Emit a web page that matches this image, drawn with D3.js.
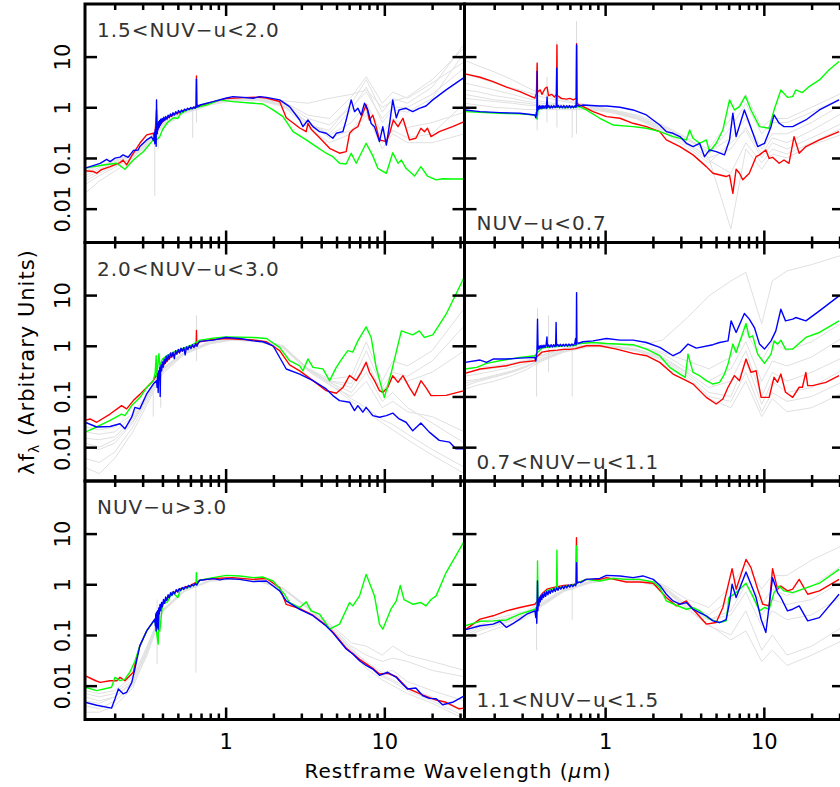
<!DOCTYPE html>
<html>
<head>
<meta charset="utf-8">
<script src="https://cdn.jsdelivr.net/npm/d3@7"></script>
<style>
  body { margin: 0; background: #fff; }
  text { font-family: "DejaVu Sans", sans-serif; }
</style>
</head>
<body>
<svg id="chart" width="840" height="787"></svg>
<script>
// sed panels: [wavelength (micron), lambda f_lambda]

const panelLabels = [
    "1.5<NUV\u2212u<2.0", "NUV\u2212u<0.7",
    "2.0<NUV\u2212u<3.0", "0.7<NUV\u2212u<1.1",
    "NUV\u2212u>3.0", "1.1<NUV\u2212u<1.5"
];

const xMajor = [1, 10];
const xMinor = [0.2, 0.3, 0.4, 0.5, 0.6, 0.7, 0.8, 0.9, 2, 3, 4, 5, 6, 7, 8, 9, 20, 30];
const yMajor = [0.01, 0.1, 1, 10];

// ---- top left: 1.5<NUV-u<2.0
const red1 = [[0.13,0.056],[0.147,0.054],[0.154,0.050],[0.165,0.059],[0.187,0.0675],[0.216,0.081],[0.226,0.091],[0.238,0.073],[0.256,0.11],[0.288,0.195],[0.318,0.285],[0.35,0.307],[0.358,0.25],[0.367,0.9],[0.37,0.35],[0.38,0.42],[0.40,0.52],[0.43,0.62],[0.47,0.72],[0.52,0.80],[0.57,0.90],[0.62,0.97],[0.652,1.0],[0.655,4.15],[0.658,1.0],[0.69,1.08],[0.834,1.27],[1.0,1.48],[1.29,1.55],[1.64,1.58],[1.81,1.52],[2.19,1.30],[2.41,0.62],[2.93,0.39],[3.22,0.33],[3.30,0.48],[3.46,0.37],[3.91,0.25],[4.52,0.155],[5.22,0.124],[5.75,0.133],[6.04,0.307],[6.33,0.36],[6.81,0.415],[7.32,0.76],[7.68,1.11],[8.06,0.56],[8.46,0.70],[8.88,0.415],[9.32,0.227],[10.3,0.21],[10.8,0.307],[11.4,0.56],[12.2,0.415],[13.1,0.607],[14.4,0.227],[15.8,0.245],[17.0,0.385],[17.9,0.33],[18.7,0.385],[19.7,0.264],[22.2,0.331],[26.9,0.415],[31.9,0.52]];
const green1 = [[0.13,0.063],[0.147,0.0675],[0.17,0.0728],[0.206,0.0785],[0.232,0.0598],[0.262,0.0913],[0.303,0.133],[0.35,0.227],[0.358,0.21],[0.367,0.227],[0.385,0.264],[0.40,0.36],[0.43,0.50],[0.47,0.62],[0.50,0.60],[0.52,0.75],[0.57,0.88],[0.62,0.95],[0.688,1.03],[0.757,1.11],[0.919,1.40],[1.11,1.29],[1.49,1.20],[1.72,1.16],[1.99,0.886],[2.30,0.654],[2.66,0.331],[3.22,0.227],[3.72,0.168],[4.30,0.124],[4.74,0.106],[5.22,0.0785],[5.75,0.0762],[6.18,0.124],[6.65,0.0785],[7.68,0.195],[8.46,0.11],[9.10,0.0626],[10.3,0.0499],[11.3,0.127],[12.2,0.0785],[12.8,0.0913],[13.7,0.0626],[15.5,0.044],[17.0,0.0675],[18.7,0.044],[21.2,0.0369],[23.3,0.039],[26.9,0.0386],[31.9,0.0386]];
const blue1 = [[0.13,0.063],[0.162,0.078],[0.178,0.094],[0.187,0.085],[0.201,0.099],[0.216,0.104],[0.226,0.115],[0.243,0.103],[0.262,0.14],[0.281,0.144],[0.288,0.168],[0.318,0.227],[0.341,0.26],[0.352,0.22],[0.356,0.32],[0.358,0.19],[0.360,0.36],[0.362,0.24],[0.364,0.40],[0.365,0.17],[0.367,1.40],[0.369,0.36],[0.371,0.30],[0.373,0.48],[0.375,0.36],[0.378,0.52],[0.381,0.40],[0.384,0.55],[0.387,0.44],[0.39,0.58],[0.394,0.48],[0.398,0.60],[0.403,0.52],[0.408,0.64],[0.414,0.55],[0.42,0.66],[0.427,0.58],[0.434,0.70],[0.441,0.62],[0.449,0.74],[0.457,0.66],[0.466,0.78],[0.475,0.70],[0.485,0.82],[0.495,0.74],[0.505,0.86],[0.516,0.78],[0.527,0.88],[0.539,0.82],[0.551,0.92],[0.563,0.86],[0.576,0.96],[0.589,0.90],[0.603,0.99],[0.617,0.93],[0.63,1.02],[0.642,0.96],[0.652,1.05],[0.655,3.6],[0.658,1.0],[0.668,1.1],[0.678,1.04],[0.688,1.11],[0.834,1.29],[1.0,1.51],[1.11,1.62],[1.29,1.57],[1.49,1.51],[1.64,1.62],[1.81,1.57],[2.19,1.40],[2.53,1.03],[2.93,0.56],[3.07,0.415],[3.30,0.56],[3.55,0.415],[3.91,0.33],[4.30,0.307],[4.74,0.245],[4.98,0.307],[5.48,0.33],[5.75,0.56],[6.18,1.40],[6.49,0.82],[6.81,0.96],[7.15,0.70],[7.50,1.20],[7.87,0.89],[8.26,0.48],[8.67,0.415],[9.32,0.21],[9.78,0.415],[10.3,0.18],[10.8,0.48],[11.3,1.40],[11.9,0.62],[12.4,0.89],[13.7,0.955],[15.1,0.82],[16.6,0.955],[18.3,1.06],[20.2,1.40],[24.5,2.20],[31.9,3.9]];

// ---- top right: NUV-u<0.7
const red2 = [[0.131,4.55],[0.163,3.91],[0.197,3.21],[0.239,2.50],[0.29,2.04],[0.361,1.51],[0.369,1.9],[0.373,7.4],[0.375,2.0],[0.39,2.2],[0.40,1.8],[0.42,2.4],[0.431,2.5],[0.44,1.7],[0.46,1.8],[0.48,1.6],[0.494,1.8],[0.497,17],[0.50,1.7],[0.53,1.5],[0.57,1.45],[0.60,1.5],[0.63,1.4],[0.658,1.5],[0.661,18],[0.664,1.2],[0.691,1.11],[0.84,0.82],[1.02,0.654],[1.24,0.607],[1.50,0.483],[1.82,0.415],[2.21,0.331],[2.43,0.227],[2.96,0.168],[3.58,0.115],[4.34,0.0675],[4.78,0.0499],[5.79,0.043],[6.08,0.046],[6.38,0.02],[6.69,0.0598],[7.03,0.0499],[7.37,0.037],[8.10,0.0499],[8.94,0.106],[9.39,0.115],[10.3,0.144],[10.8,0.098],[11.35,0.103],[12.5,0.0785],[13.4,0.0913],[14.4,0.0785],[15.5,0.264],[16.7,0.124],[18.4,0.168],[22.4,0.227],[29.8,0.331]];
const green2 = [[0.131,0.82],[0.163,0.80],[0.217,0.761],[0.29,0.74],[0.361,0.706],[0.373,0.58],[0.378,0.9],[0.40,0.95],[0.45,1.0],[0.50,1.02],[0.55,0.98],[0.60,1.0],[0.65,1.02],[0.691,1.03],[0.761,0.886],[0.925,0.607],[1.12,0.448],[1.50,0.415],[1.82,0.385],[2.21,0.331],[2.68,0.264],[3.25,0.227],[3.41,0.357],[3.58,0.245],[3.94,0.195],[4.34,0.227],[4.55,0.133],[5.01,0.195],[5.52,0.357],[6.08,1.40],[6.53,0.886],[7.03,1.03],[7.65,1.67],[8.30,0.886],[9.39,0.415],[10.8,0.385],[11.6,0.886],[12.8,2.20],[14.1,1.57],[15.2,1.62],[15.9,2.20],[17.5,1.95],[19.3,2.56],[22.4,3.46],[25.8,5.5],[29.8,7.97]];
const blue2 = [[0.131,0.886],[0.163,0.821],[0.217,0.785],[0.29,0.761],[0.361,0.706],[0.366,0.62],[0.369,0.80],[0.371,0.70],[0.373,5.1],[0.375,0.85],[0.378,1.05],[0.382,0.92],[0.386,1.08],[0.39,0.95],[0.395,1.06],[0.40,0.94],[0.406,1.08],[0.412,0.96],[0.419,1.07],[0.426,0.95],[0.431,1.6],[0.434,0.98],[0.442,1.08],[0.45,0.96],[0.458,1.07],[0.466,0.97],[0.475,1.08],[0.484,0.98],[0.492,1.06],[0.495,5.9],[0.498,1.0],[0.507,1.08],[0.517,0.97],[0.527,1.07],[0.538,0.98],[0.549,1.08],[0.56,0.97],[0.572,1.07],[0.584,0.98],[0.596,1.08],[0.608,0.97],[0.62,1.06],[0.633,0.98],[0.645,1.07],[0.655,1.0],[0.658,1.4],[0.661,17],[0.664,1.05],[0.676,1.1],[0.69,1.05],[0.725,1.11],[0.925,1.06],[1.02,1.06],[1.24,1.0],[1.50,0.886],[1.82,0.706],[2.21,0.448],[2.43,0.331],[2.68,0.307],[2.96,0.264],[3.25,0.195],[3.58,0.168],[3.94,0.195],[4.23,0.106],[4.55,0.144],[5.01,0.133],[5.65,0.115],[6.08,0.227],[6.38,0.761],[6.69,0.264],[7.54,0.886],[8.10,0.483],[9.15,0.168],[10.1,0.195],[11.1,0.415],[11.6,0.706],[12.5,0.483],[13.4,0.415],[15.2,0.415],[18.4,0.562],[22.4,0.886],[29.8,1.40]];

// ---- middle left: 2.0<NUV-u<3.0
const red3 = [[0.13,0.034],[0.14,0.036],[0.154,0.031],[0.187,0.045],[0.221,0.066],[0.238,0.057],[0.262,0.083],[0.288,0.11],[0.35,0.205],[0.37,0.28],[0.40,0.40],[0.45,0.60],[0.50,0.75],[0.55,0.85],[0.60,0.95],[0.652,1.0],[0.655,2.0],[0.658,1.05],[0.688,1.2],[0.834,1.33],[1.0,1.39],[1.49,1.30],[1.81,1.2],[2.19,0.80],[2.53,0.42],[2.93,0.32],[3.55,0.205],[4.30,0.13],[4.98,0.116],[5.48,0.15],[6.04,0.26],[6.65,0.205],[7.15,0.30],[7.68,0.47],[8.06,0.30],[8.67,0.205],[9.32,0.13],[9.78,0.12],[10.5,0.15],[11.3,0.257],[12.2,0.19],[13.1,0.257],[14.4,0.15],[15.5,0.104],[17.0,0.205],[18.3,0.15],[19.7,0.104],[24.5,0.105],[31.9,0.13]];
const green3 = [[0.13,0.0197],[0.154,0.025],[0.187,0.0336],[0.221,0.045],[0.232,0.042],[0.256,0.066],[0.288,0.095],[0.318,0.15],[0.35,0.205],[0.36,0.30],[0.365,0.64],[0.368,0.25],[0.375,0.45],[0.38,0.70],[0.385,0.40],[0.40,0.55],[0.43,0.65],[0.47,0.75],[0.52,0.85],[0.57,0.95],[0.62,1.05],[0.688,1.29],[0.834,1.41],[1.0,1.50],[1.49,1.46],[1.81,1.39],[2.19,0.93],[2.53,0.507],[2.93,0.40],[3.07,0.32],[3.30,0.55],[3.55,0.375],[4.10,0.35],[4.52,0.205],[4.98,0.375],[5.48,0.59],[5.89,0.80],[6.33,0.75],[6.81,1.25],[7.68,2.36],[8.26,1.46],[8.88,0.375],[10.0,0.095],[11.0,0.277],[12.8,1.97],[15.1,1.64],[16.6,1.97],[17.9,1.46],[20.2,1.64],[24.5,4.2],[31.9,22.8]];
const blue3 = [[0.13,0.031],[0.154,0.025],[0.187,0.0256],[0.216,0.029],[0.232,0.023],[0.256,0.039],[0.268,0.061],[0.288,0.057],[0.318,0.112],[0.35,0.176],[0.367,0.205],[0.37,0.15],[0.373,0.28],[0.376,0.12],[0.379,0.32],[0.382,0.22],[0.385,0.38],[0.387,0.10],[0.389,0.30],[0.392,0.42],[0.395,0.32],[0.40,0.48],[0.405,0.38],[0.41,0.55],[0.416,0.45],[0.422,0.62],[0.428,0.50],[0.435,0.66],[0.442,0.55],[0.45,0.72],[0.458,0.60],[0.466,0.74],[0.475,0.56],[0.484,0.80],[0.493,0.68],[0.503,0.85],[0.513,0.72],[0.523,0.90],[0.534,0.78],[0.545,0.92],[0.556,0.66],[0.567,0.95],[0.579,0.84],[0.592,1.0],[0.605,0.88],[0.618,1.05],[0.632,0.92],[0.646,1.1],[0.66,0.98],[0.674,1.15],[0.688,1.22],[0.834,1.29],[1.0,1.46],[1.23,1.39],[1.49,1.25],[1.72,1.2],[1.99,1.0],[2.41,0.348],[2.93,0.277],[3.55,0.205],[4.30,0.141],[4.74,0.104],[5.22,0.083],[6.04,0.077],[6.49,0.0527],[6.81,0.066],[7.32,0.049],[7.68,0.061],[8.46,0.042],[9.32,0.039],[10.3,0.042],[11.3,0.047],[12.4,0.036],[13.7,0.031],[15.1,0.021],[17.0,0.030],[19.2,0.0198],[22.2,0.0136],[25.7,0.0126],[28.2,0.0093],[31.9,0.0093]];

// ---- middle right: 0.7<NUV-u<1.1
const red4 = [[0.131,0.286],[0.163,0.348],[0.197,0.375],[0.239,0.404],[0.29,0.47],[0.361,0.507],[0.37,0.6],[0.40,0.75],[0.45,0.8],[0.50,0.82],[0.55,0.85],[0.60,0.85],[0.65,0.88],[0.761,1.0],[0.925,1.0],[1.18,0.86],[1.50,0.71],[1.82,0.636],[2.21,0.47],[2.68,0.277],[3.25,0.205],[3.58,0.176],[4.34,0.096],[5.01,0.071],[5.52,0.089],[5.95,0.152],[6.53,0.257],[7.03,0.205],[7.72,0.547],[8.30,0.299],[8.94,0.322],[9.61,0.096],[10.8,0.096],[11.6,0.239],[12.2,0.19],[12.8,0.277],[13.7,0.121],[15.2,0.096],[16.7,0.152],[17.5,0.152],[18.4,0.299],[18.9,0.164],[20.3,0.164],[24.6,0.19],[29.8,0.257]];
const green4 = [[0.131,0.348],[0.155,0.375],[0.179,0.45],[0.217,0.507],[0.29,0.59],[0.361,0.636],[0.37,0.7],[0.40,0.9],[0.45,0.95],[0.50,0.97],[0.55,1.0],[0.60,1.0],[0.65,1.02],[0.691,1.11],[0.84,1.16],[1.02,1.11],[1.50,1.05],[1.82,0.86],[2.21,0.636],[2.55,0.375],[2.96,0.277],[3.20,0.239],[3.33,0.686],[3.58,0.299],[3.94,0.257],[4.34,0.205],[4.78,0.176],[5.26,0.19],[5.65,0.277],[5.95,0.436],[6.38,1.08],[6.69,0.74],[7.72,2.75],[8.10,1.46],[8.51,1.57],[9.15,0.686],[10.1,0.45],[11.1,0.686],[11.6,1.25],[12.2,1.08],[12.8,1.29],[13.7,0.86],[15.2,0.86],[18.4,1.46],[22.4,1.83],[29.8,3.10]];
const blue4 = [[0.131,0.47],[0.163,0.523],[0.179,0.47],[0.197,0.547],[0.239,0.547],[0.29,0.572],[0.361,0.59],[0.366,0.50],[0.369,0.65],[0.372,0.75],[0.375,3.35],[0.378,0.85],[0.382,0.98],[0.386,0.88],[0.39,1.0],[0.395,0.90],[0.40,1.02],[0.406,0.92],[0.412,1.03],[0.418,0.93],[0.425,1.04],[0.43,1.5],[0.433,0.95],[0.44,1.04],[0.448,0.94],[0.456,1.05],[0.465,0.95],[0.474,1.05],[0.483,0.96],[0.488,1.06],[0.491,2.88],[0.494,1.0],[0.503,1.06],[0.512,0.97],[0.522,1.07],[0.533,0.98],[0.544,1.07],[0.555,0.99],[0.567,1.08],[0.579,0.99],[0.591,1.08],[0.604,1.0],[0.617,1.09],[0.63,1.01],[0.643,1.1],[0.652,1.4],[0.655,1.05],[0.658,1.1],[0.661,11.2],[0.664,1.15],[0.68,1.12],[0.725,1.2],[0.84,1.25],[1.02,1.39],[1.24,1.29],[1.50,1.29],[1.82,1.16],[2.21,0.927],[2.68,0.636],[2.96,0.74],[3.33,1.08],[3.75,0.90],[4.78,1.05],[5.26,1.16],[5.95,1.25],[6.22,3.1],[6.69,1.83],[7.54,4.33],[8.10,3.35],[8.72,2.29],[9.39,1.08],[10.1,0.86],[11.1,1.25],[11.9,1.97],[12.8,5.26],[13.7,3.10],[15.2,3.35],[15.9,3.61],[18.4,3.10],[22.4,4.88],[29.8,9.64]];

// ---- bottom left: NUV-u>3.0
const red5 = [[0.13,0.0157],[0.152,0.0125],[0.162,0.0116],[0.187,0.0125],[0.206,0.0125],[0.216,0.0146],[0.232,0.0125],[0.249,0.0157],[0.262,0.0184],[0.275,0.036],[0.288,0.061],[0.318,0.12],[0.358,0.2],[0.40,0.40],[0.45,0.62],[0.52,0.82],[0.60,0.95],[0.688,1.2],[0.834,1.3],[1.11,1.35],[1.49,1.25],[1.81,1.3],[2.19,0.86],[2.41,0.40],[2.93,0.33],[3.55,0.245],[4.30,0.155],[4.74,0.115],[5.75,0.055],[6.98,0.033],[8.46,0.022],[9.32,0.017],[10.5,0.0175],[11.9,0.015],[14.0,0.0088],[17.4,0.0066],[21.2,0.0052],[24.5,0.0047],[29.6,0.0035],[31.9,0.0036]];
const green5 = [[0.13,0.0093],[0.154,0.008],[0.191,0.0093],[0.201,0.0146],[0.216,0.0126],[0.232,0.0135],[0.249,0.0184],[0.268,0.03],[0.288,0.061],[0.318,0.12],[0.358,0.2],[0.376,0.066],[0.38,0.30],[0.385,0.12],[0.40,0.40],[0.43,0.45],[0.46,0.70],[0.50,0.55],[0.52,0.80],[0.57,0.85],[0.62,0.95],[0.652,1.0],[0.655,1.7],[0.658,1.0],[0.688,1.2],[0.834,1.35],[1.01,1.50],[1.23,1.46],[1.49,1.35],[1.72,1.39],[1.99,1.16],[2.35,0.636],[2.53,0.436],[2.93,0.348],[3.22,0.45],[3.46,0.299],[3.91,0.257],[4.52,0.13],[4.74,0.141],[5.22,0.164],[6.04,0.436],[6.33,0.375],[6.98,0.59],[7.68,1.57],[8.67,0.59],[9.32,0.164],[9.78,0.13],[11.0,0.322],[11.9,0.47],[12.6,0.95],[13.3,0.50],[15.1,0.404],[17.0,0.436],[18.3,0.375],[19.7,0.50],[21.2,0.59],[24.5,1.70],[31.9,7.1]];
const blue5 = [[0.13,0.0047],[0.154,0.0041],[0.191,0.0036],[0.201,0.0055],[0.211,0.0086],[0.226,0.0069],[0.238,0.0074],[0.256,0.0115],[0.268,0.0213],[0.288,0.061],[0.318,0.12],[0.358,0.205],[0.361,0.15],[0.363,0.26],[0.365,0.12],[0.367,0.28],[0.37,0.14],[0.373,0.30],[0.376,0.13],[0.379,0.34],[0.382,0.26],[0.386,0.40],[0.39,0.30],[0.395,0.44],[0.40,0.36],[0.406,0.50],[0.412,0.42],[0.419,0.56],[0.426,0.48],[0.434,0.62],[0.442,0.54],[0.45,0.68],[0.459,0.60],[0.468,0.72],[0.478,0.65],[0.488,0.78],[0.499,0.70],[0.51,0.82],[0.521,0.75],[0.533,0.86],[0.545,0.79],[0.558,0.90],[0.571,0.84],[0.585,0.95],[0.599,0.88],[0.613,0.99],[0.628,0.93],[0.643,1.03],[0.658,0.97],[0.673,1.1],[0.688,1.2],[0.834,1.29],[0.919,1.22],[1.01,1.29],[1.23,1.25],[1.49,1.13],[1.81,1.16],[2.19,0.74],[2.41,0.47],[2.93,0.32],[3.55,0.24],[4.30,0.15],[4.74,0.11],[5.75,0.053],[6.33,0.042],[6.98,0.031],[7.68,0.025],[8.46,0.0213],[9.32,0.016],[10.5,0.0184],[11.9,0.0146],[12.4,0.0126],[14.0,0.0086],[15.8,0.009],[17.4,0.0064],[19.2,0.0056],[21.2,0.0055],[23.3,0.0042],[26.9,0.0047],[31.9,0.0063]];

// ---- bottom right: 1.1<NUV-u<1.5
const red6 = [[0.131,0.126],[0.163,0.205],[0.197,0.239],[0.239,0.299],[0.29,0.348],[0.361,0.404],[0.37,0.45],[0.40,0.65],[0.43,0.80],[0.46,0.85],[0.50,0.90],[0.55,0.95],[0.60,0.97],[0.655,1.0],[0.660,8.3],[0.664,1.05],[0.761,1.25],[0.925,1.25],[1.02,1.35],[1.36,1.11],[1.65,1.11],[2.01,1.05],[2.43,0.547],[2.81,0.375],[3.25,0.47],[3.58,0.322],[4.34,0.164],[5.01,0.176],[5.52,0.348],[6.31,2.03],[6.69,0.80],[7.72,3.10],[8.30,2.13],[9.15,0.80],[9.85,0.404],[10.8,0.375],[11.35,2.03],[12.2,0.80],[12.8,0.927],[14.1,0.74],[15.2,0.80],[16.7,1.25],[18.9,0.636],[22.4,0.74],[29.8,1.25]];
const green6 = [[0.131,0.152],[0.163,0.186],[0.197,0.19],[0.239,0.198],[0.29,0.257],[0.361,0.322],[0.373,0.30],[0.375,2.88],[0.378,0.45],[0.40,0.60],[0.43,0.75],[0.46,0.80],[0.494,0.85],[0.497,4.7],[0.50,0.85],[0.55,0.90],[0.60,0.95],[0.658,1.0],[0.661,5.7],[0.664,1.05],[0.761,1.25],[0.925,1.16],[1.12,1.31],[1.36,1.25],[1.65,1.25],[2.01,1.11],[2.21,0.86],[2.43,0.47],[2.81,0.386],[3.25,0.322],[3.58,0.348],[3.94,0.299],[4.55,0.205],[5.26,0.176],[5.79,0.19],[6.03,0.547],[6.69,0.686],[7.72,1.05],[8.51,0.59],[9.39,0.299],[10.1,0.348],[10.8,0.322],[11.6,0.686],[12.5,0.927],[13.4,0.74],[15.2,0.686],[17.5,0.80],[22.4,1.05],[29.8,1.97]];
const blue6 = [[0.131,0.126],[0.163,0.152],[0.197,0.164],[0.217,0.186],[0.239,0.141],[0.264,0.17],[0.29,0.205],[0.32,0.257],[0.361,0.299],[0.366,0.22],[0.369,0.35],[0.371,0.17],[0.373,0.40],[0.375,1.16],[0.377,0.30],[0.38,0.50],[0.383,0.38],[0.386,0.55],[0.39,0.45],[0.394,0.60],[0.399,0.50],[0.404,0.64],[0.41,0.55],[0.416,0.68],[0.422,0.58],[0.429,0.72],[0.436,0.62],[0.443,0.75],[0.451,0.66],[0.459,0.78],[0.467,0.70],[0.476,0.82],[0.485,0.72],[0.495,0.85],[0.505,0.76],[0.515,0.88],[0.526,0.80],[0.537,0.90],[0.549,0.82],[0.561,0.93],[0.573,0.85],[0.586,0.96],[0.599,0.88],[0.612,0.98],[0.626,0.90],[0.64,1.0],[0.652,0.94],[0.658,1.05],[0.661,2.67],[0.664,1.05],[0.68,1.1],[0.7,1.08],[0.761,1.25],[0.925,1.31],[1.02,1.50],[1.24,1.46],[1.50,1.35],[1.73,1.46],[2.01,1.25],[2.21,0.96],[2.43,0.636],[2.68,0.47],[2.96,0.404],[3.25,0.436],[3.58,0.322],[3.94,0.277],[4.34,0.239],[4.78,0.19],[5.26,0.176],[5.79,0.20],[6.08,0.436],[6.31,1.0],[6.69,0.547],[7.72,1.75],[8.30,1.0],[8.94,0.547],[9.61,0.205],[10.3,0.112],[11.35,1.35],[12.2,0.686],[12.8,0.55],[14.1,0.299],[15.2,0.322],[16.7,0.375],[18.9,0.19],[22.4,0.22],[29.8,0.636]];

// grey comparison templates, sampled on a common wavelength grid
const grayGrid = [0.13, 0.16, 0.2, 0.26, 0.32, 0.4, 0.55, 0.8, 1.1, 1.6, 2.3, 3.3, 4.5, 6.2, 7.7, 9.7, 11.3, 14, 20, 32];
const gray1 = [
    [0.045,0.06,0.08,0.11,0.2,0.45,0.8,1.2,1.45,1.45,1.2,0.5,0.3,0.9,2.5,0.5,0.9,0.8,1.5,12],
    [0.03,0.045,0.065,0.1,0.18,0.42,0.78,1.15,1.4,1.4,1.1,0.45,0.35,1.2,3.5,0.8,1.5,1.2,2.5,18],
    [0.06,0.07,0.09,0.12,0.22,0.48,0.85,1.25,1.5,1.5,1.25,0.6,0.45,1.0,2.0,0.6,1.0,1.0,1.8,6],
    [0.02,0.035,0.055,0.09,0.17,0.4,0.75,1.1,1.35,1.35,1.05,0.4,0.2,0.3,0.7,0.2,0.35,0.25,0.3,1.2],
    [0.05,0.065,0.085,0.115,0.21,0.46,0.82,1.22,1.5,1.55,1.35,1.2,1.5,1.8,2.2,1.0,1.3,1.6,3.5,15],
    [0.04,0.055,0.07,0.1,0.19,0.43,0.8,1.18,1.42,1.42,1.15,0.5,0.25,0.35,0.8,0.15,0.3,0.2,0.2,0.3],
    [0.035,0.05,0.07,0.1,0.2,0.44,0.8,1.2,1.45,1.5,1.3,0.7,0.6,1.6,4.0,1.2,2.0,1.5,3.0,8],
    [0.055,0.07,0.085,0.12,0.22,0.47,0.84,1.22,1.45,1.4,1.1,0.5,0.28,0.5,1.2,0.3,0.6,0.4,0.5,0.8]
];
const gray2 = [
    [8.5,6.5,5,3.5,2.5,1.8,1.4,1.1,0.9,0.7,0.45,0.25,0.13,0.25,0.6,0.15,0.3,0.3,0.5,1.2],
    [3,2.6,2.2,1.8,1.5,1.3,1.1,1.0,0.85,0.65,0.4,0.2,0.1,0.15,0.4,0.12,0.25,0.2,0.35,0.8],
    [1.5,1.4,1.3,1.2,1.1,1.05,1.0,0.95,0.8,0.6,0.35,0.18,0.09,0.05,0.2,0.08,0.15,0.12,0.2,0.4],
    [2.2,2.0,1.7,1.5,1.3,1.2,1.05,1.0,0.85,0.62,0.38,0.22,0.15,0.6,1.8,0.4,0.6,0.6,1.0,2.0],
    [1.2,1.1,1.0,0.95,0.9,0.9,0.9,0.9,0.78,0.58,0.33,0.16,0.08,0.2,0.35,0.1,0.2,0.15,0.25,0.5],
    [4.5,3.8,3.0,2.4,2.0,1.6,1.3,1.05,0.88,0.66,0.42,0.24,0.12,0.4,1.2,0.3,0.5,0.5,0.8,1.6],
    [1.8,1.6,1.4,1.3,1.2,1.1,1.0,0.95,0.82,0.6,0.36,0.2,0.1,0.004,0.15,0.06,0.12,0.1,0.18,0.3]
];
const gray3 = [
    [0.02,0.018,0.02,0.04,0.1,0.35,0.75,1.2,1.4,1.3,1.0,0.35,0.2,0.09,0.06,0.035,0.028,0.018,0.009,0.004],
    [0.01,0.009,0.012,0.03,0.09,0.33,0.72,1.15,1.35,1.25,0.95,0.33,0.18,0.08,0.05,0.03,0.022,0.014,0.007,0.003],
    [0.006,0.005,0.008,0.025,0.08,0.3,0.7,1.1,1.3,1.2,0.9,0.32,0.17,0.1,0.2,0.06,0.08,0.05,0.04,0.02],
    [0.015,0.014,0.016,0.035,0.1,0.34,0.74,1.18,1.38,1.28,0.98,0.36,0.22,0.25,1.2,0.2,0.5,0.4,0.8,5.5],
    [0.004,0.003,0.006,0.02,0.07,0.28,0.68,1.1,1.3,1.22,0.92,0.34,0.2,0.18,0.8,0.15,0.3,0.25,0.5,2.5],
    [0.025,0.022,0.025,0.045,0.11,0.36,0.76,1.2,1.4,1.3,1.0,0.35,0.19,0.12,0.3,0.08,0.12,0.06,0.03,0.012],
    [0.012,0.01,0.014,0.032,0.095,0.33,0.73,1.16,1.36,1.26,0.96,0.34,0.2,0.15,0.5,0.12,0.25,0.2,0.3,0.8]
];
const gray4 = [
    [0.2,0.22,0.26,0.32,0.4,0.55,0.8,1.0,1.0,0.85,0.6,0.3,0.15,0.2,0.8,0.1,0.3,0.2,0.3,0.6],
    [0.25,0.28,0.32,0.38,0.45,0.6,0.85,1.05,1.1,0.95,0.7,0.35,0.2,0.35,1.2,0.2,0.5,0.4,0.6,1.5],
    [0.16,0.2,0.24,0.3,0.38,0.52,0.78,0.98,0.98,0.8,0.55,0.25,0.1,0.08,0.3,0.05,0.12,0.08,0.1,0.2],
    [0.3,0.33,0.36,0.42,0.5,0.65,0.88,1.05,1.1,1.0,1.3,3.6,9.6,19,28,2.7,19,30,40,63],
    [0.18,0.21,0.25,0.31,0.4,0.55,0.8,0.98,1.0,0.85,0.58,0.28,0.12,0.1,0.5,0.07,0.2,0.12,0.15,0.35],
    [0.35,0.38,0.4,0.45,0.52,0.65,0.88,1.05,1.1,1.0,0.75,0.5,0.35,0.6,2.0,0.5,1.2,0.8,1.2,3.0],
    [0.14,0.17,0.2,0.26,0.34,0.5,0.75,0.95,0.95,0.78,0.52,0.22,0.09,0.06,0.2,0.04,0.09,0.05,0.06,0.12]
];
const gray5 = [
    [0.006,0.005,0.006,0.012,0.05,0.3,0.75,1.2,1.3,1.2,0.85,0.35,0.15,0.05,0.025,0.015,0.012,0.008,0.005,0.0025],
    [0.004,0.0035,0.005,0.01,0.04,0.28,0.72,1.15,1.25,1.15,0.8,0.33,0.14,0.045,0.022,0.013,0.01,0.007,0.0045,0.0022],
    [0.008,0.007,0.008,0.015,0.06,0.32,0.76,1.2,1.3,1.2,0.82,0.34,0.16,0.06,0.04,0.03,0.035,0.03,0.02,0.015],
    [0.003,0.003,0.004,0.009,0.045,0.3,0.74,1.18,1.28,1.18,0.84,0.36,0.17,0.07,0.06,0.04,0.06,0.04,0.03,0.02],
    [0.005,0.0045,0.006,0.011,0.05,0.29,0.73,1.17,1.27,1.17,0.83,0.34,0.15,0.05,0.03,0.018,0.02,0.012,0.008,0.005],
    [0.007,0.006,0.007,0.013,0.055,0.31,0.74,1.19,1.29,1.19,0.83,0.35,0.15,0.055,0.028,0.016,0.013,0.009,0.006,0.003]
];
const gray6 = [
    [0.1,0.13,0.16,0.2,0.25,0.4,0.75,1.1,1.3,1.2,0.9,0.35,0.2,0.3,1.0,0.25,0.5,0.4,0.5,1.2],
    [0.13,0.16,0.19,0.23,0.28,0.42,0.78,1.12,1.32,1.25,0.95,0.4,0.25,0.5,1.5,0.4,0.8,0.6,0.9,2.5],
    [0.08,0.1,0.13,0.17,0.22,0.37,0.72,1.05,1.25,1.15,0.85,0.32,0.15,0.1,0.3,0.05,0.1,0.04,0.06,0.15],
    [0.15,0.18,0.21,0.25,0.3,0.45,0.8,1.15,1.35,1.3,1.0,0.5,0.35,0.9,2.5,0.8,1.5,1.5,3.0,6.0],
    [0.09,0.12,0.15,0.19,0.24,0.39,0.74,1.08,1.28,1.18,0.88,0.33,0.16,0.08,0.12,0.03,0.05,0.025,0.04,0.08],
    [0.11,0.14,0.17,0.21,0.26,0.41,0.76,1.1,1.3,1.22,0.92,0.37,0.2,0.25,0.7,0.15,0.3,0.2,0.25,0.6]
];

// grey spectral glitches: [wavelength, low, high]
const spikes1 = [[0.358,0.018,0.35],[0.375,0.15,0.7],[0.62,0.25,1.0],[0.655,0.5,2.2]];
const spikes2 = [[0.373,0.35,8],[0.43,0.5,4],[0.497,0.4,20],[0.62,0.25,0.9],[0.66,0.3,50]];
const spikes3 = [[0.35,0.04,0.12],[0.39,0.06,0.25],[0.655,0.5,4]];
const spikes4 = [[0.37,0.1,1.0],[0.375,0.5,5.5],[0.44,0.3,4],[0.62,0.1,1.0]];
const spikes5 = [[0.37,0.027,0.5],[0.65,0.018,1.7]];
const spikes6 = [[0.37,0.05,1.2],[0.62,0.2,1.1]];

const panels = [
    { col: 0, row: 0, label: panelLabels[0], red: red1, green: green1, blue: blue1, gray: gray1, spikes: spikes1 },
    { col: 1, row: 0, label: panelLabels[1], red: red2, green: green2, blue: blue2, gray: gray2, spikes: spikes2 },
    { col: 0, row: 1, label: panelLabels[2], red: red3, green: green3, blue: blue3, gray: gray3, spikes: spikes3 },
    { col: 1, row: 1, label: panelLabels[3], red: red4, green: green4, blue: blue4, gray: gray4, spikes: spikes4 },
    { col: 0, row: 2, label: panelLabels[4], red: red5, green: green5, blue: blue5, gray: gray5, spikes: spikes5 },
    { col: 1, row: 2, label: panelLabels[5], red: red6, green: green6, blue: blue6, gray: gray6, spikes: spikes6 }
];

const svg = d3.select("#chart");
const left = 85, plotW = 379.5, plotH = 238.5;
const tops = [4, 242.5, 481];

panels.forEach((p, i) => {
    const x0 = left + p.col * plotW;
    const y0 = tops[p.row];

    const x = d3.scaleLog().domain([0.13, 32]).range([x0, x0 + plotW]);
    const y = d3.scaleLog().domain([0.00215, 109]).range([y0 + plotH, y0]);

    svg.append("clipPath").attr("id", "clip" + i)
        .append("rect")
        .attr("x", x0).attr("y", y0)
        .attr("width", plotW).attr("height", plotH);

    const g = svg.append("g").attr("clip-path", `url(#clip${i})`);
    const line = d3.line().x(d => x(d[0])).y(d => y(d[1]));

    p.gray.forEach(vals => {
        g.append("path")
            .datum(grayGrid.map((w, k) => [w, vals[k]]))
            .attr("d", line)
            .attr("fill", "none")
            .attr("stroke", "#e0e0e0")
            .attr("stroke-width", 1);
    });

    g.selectAll(".spike")
        .data(p.spikes)
        .enter().append("line")
        .attr("x1", d => x(d[0])).attr("x2", d => x(d[0]))
        .attr("y1", d => y(d[1])).attr("y2", d => y(d[2]))
        .attr("stroke", "#dcdcdc")
        .attr("stroke-width", 1);

    [[p.red, "#ff0000"], [p.green, "#00ff00"], [p.blue, "#0000ff"]].forEach(([data, col]) => {
        g.append("path")
            .datum(data)
            .attr("d", line)
            .attr("fill", "none")
            .attr("stroke", col)
            .attr("stroke-width", 1.4)
            .attr("stroke-linejoin", "round");
    });

    // ticks, all pointing inwards
    const tickStyle = sel => {
        sel.select(".domain").remove();
        sel.selectAll(".tick text").remove();
        sel.selectAll(".tick line").attr("stroke", "#000").attr("stroke-width", 2.5);
    };
    svg.append("g").attr("transform", `translate(0,${y0 + plotH})`)
        .call(d3.axisTop(x).tickValues(xMajor).tickSize(12)).call(tickStyle);
    svg.append("g").attr("transform", `translate(0,${y0 + plotH})`)
        .call(d3.axisTop(x).tickValues(xMinor).tickSize(6)).call(tickStyle);
    svg.append("g").attr("transform", `translate(0,${y0})`)
        .call(d3.axisBottom(x).tickValues(xMajor).tickSize(12)).call(tickStyle);
    svg.append("g").attr("transform", `translate(0,${y0})`)
        .call(d3.axisBottom(x).tickValues(xMinor).tickSize(6)).call(tickStyle);
    svg.append("g").attr("transform", `translate(${x0},0)`)
        .call(d3.axisRight(y).tickValues(yMajor).tickSize(12)).call(tickStyle);
    svg.append("g").attr("transform", `translate(${x0 + plotW},0)`)
        .call(d3.axisLeft(y).tickValues(yMajor).tickSize(12)).call(tickStyle);

    // frame
    svg.append("rect")
        .attr("x", x0).attr("y", y0)
        .attr("width", plotW).attr("height", plotH)
        .attr("fill", "none")
        .attr("stroke", "#000")
        .attr("stroke-width", 3);

    // tick labels
    if (p.row === 2) {
        const ax = svg.append("g").attr("transform", `translate(0,${y0 + plotH})`)
            .call(d3.axisBottom(x).tickValues(xMajor).tickSize(0).tickPadding(15).tickFormat(d3.format("~g")));
        ax.select(".domain").remove();
        ax.selectAll("text").attr("font-size", 21).attr("fill", "#000")
            .style("font-family", "'DejaVu Sans', sans-serif");
    }
    if (p.col === 0) {
        const ay = svg.append("g").attr("transform", `translate(${x0},0)`)
            .call(d3.axisLeft(y).tickValues(yMajor).tickSize(0).tickFormat(d3.format("~g")));
        ay.select(".domain").remove();
        ay.selectAll("text")
            .attr("x", 0).attr("dy", 0)
            .attr("transform", "translate(-15,0) rotate(-90)")
            .attr("text-anchor", "middle")
            .attr("font-size", 21).attr("fill", "#000")
            .style("font-family", "'DejaVu Sans', sans-serif");
    }

    // panel label
    svg.append("text")
        .attr("x", x0 + 12)
        .attr("y", p.col === 0 ? y0 + 33 : y0 + plotH - 12.5)
        .attr("font-size", 20)
        .attr("letter-spacing", 1)
        .attr("fill", "#333")
        .text(p.label);
});

// axis titles
const xt = svg.append("text")
    .attr("x", 458).attr("y", 778)
    .attr("text-anchor", "middle")
    .attr("font-size", 20)
    .attr("letter-spacing", 1)
    .attr("fill", "#000");
xt.append("tspan").text("Restframe Wavelength (");
xt.append("tspan").attr("font-style", "italic").text("\u03bc");
xt.append("tspan").text("m)");

const yt = svg.append("text")
    .attr("transform", "translate(34,362) rotate(-90)")
    .attr("text-anchor", "middle")
    .attr("font-size", 21)
    .attr("letter-spacing", 1)
    .attr("fill", "#000");
yt.append("tspan").text("\u03bbf");
yt.append("tspan").attr("font-size", 14).attr("dy", 5).text("\u03bb");
yt.append("tspan").attr("dy", -5).text(" (Arbitrary Units)");
</script>
</body>
</html>
